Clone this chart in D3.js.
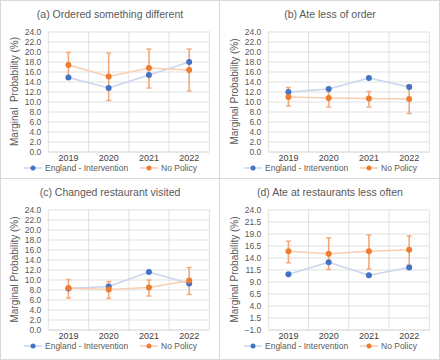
<!DOCTYPE html>
<html><head><meta charset="utf-8">
<script src="https://cdn.jsdelivr.net/npm/d3@7"></script>
<style>body{margin:0;background:#fff;} text{font-family:"Liberation Sans",Arial,sans-serif;}</style>
</head><body><svg id="c" width="440" height="360"></svg>
<script>
const years = ["2019","2020","2021","2022"];
const titles = ["(a) Ordered something different","(b) Ate less of order","(c) Changed restaurant visited","(d) Ate at restaurants less often"];
const yLabels = ["Marginal  Probability (%)","Marginal Probability (%)","Marginal Probability (%)","Marginal Probability (%)"];
const seriesNames = ["England - Intervention","No Policy"];

const englandA = [14.8,12.7,15.3,17.9];
const policyA  = [17.3,15.0,16.7,16.3];
const policyALow  = [14.8,10.2,12.7,12.1];
const policyAHigh = [19.8,19.7,20.5,20.5];

const englandB = [11.9,12.5,14.7,12.9];
const policyB  = [10.9,10.7,10.6,10.5];
const policyBLow  = [9.1,8.9,8.9,7.6];
const policyBHigh = [12.8,12.5,12.0,13.3];

const englandC = [8.2,8.6,11.5,9.2];
const policyC  = [8.3,8.0,8.4,9.8];
const policyCLow  = [6.3,6.2,6.7,7.0];
const policyCHigh = [10.0,9.6,9.9,12.4];

const englandD = [10.5,13.0,10.3,11.9];
const policyD  = [15.3,14.8,15.3,15.6];
const policyDLow  = [12.9,11.5,11.6,12.4];
const policyDHigh = [17.4,18.1,18.7,18.5];

const ticksStd = [0,2,4,6,8,10,12,14,16,18,20,22,24];
const ticksD = [-1,1.5,4,6.5,9,11.5,14,16.5,19,21.5,24];

const panels = [
  {eng:englandA, pol:policyA, lo:policyALow, hi:policyAHigh, ticks:ticksStd},
  {eng:englandB, pol:policyB, lo:policyBLow, hi:policyBHigh, ticks:ticksStd},
  {eng:englandC, pol:policyC, lo:policyCLow, hi:policyCHigh, ticks:ticksStd},
  {eng:englandD, pol:policyD, lo:policyDLow, hi:policyDHigh, ticks:ticksD}
];

const BLUE="#4472C4", ORANGE="#ED7D31", BLUE_L="#c9d6ee", ORANGE_L="#f8cdb0", ERR="#f2a878";
const TXT="#595959", GRID="#d9d9d9";
const svg = d3.select("#c");
svg.append("rect").attr("width",440).attr("height",360).attr("fill","#fff");

panels.forEach((p,i)=>{
  const ox = (i%2)*220, oy = Math.floor(i/2)*178;
  const g = svg.append("g").attr("transform",`translate(${ox},${oy})`);
  const L=48.3, R=209.3, T=31.5, B=151.5;
  const x = d3.scaleBand().domain(years).range([L,R]).padding(0);
  const y = d3.scaleLinear().domain([p.ticks[0], p.ticks[p.ticks.length-1]]).range([B,T]);

  const ya = g.append("g").attr("transform",`translate(${L},0)`)
    .call(d3.axisLeft(y).tickValues(p.ticks).tickSize(-(R-L)).tickPadding(7).tickFormat(d3.format(".1f")));
  ya.select(".domain").remove();
  ya.selectAll("line").attr("stroke",GRID).attr("stroke-width",0.8);
  ya.selectAll("text").attr("fill",TXT).attr("font-size","8.5px").attr("font-family","Liberation Sans, Arial, sans-serif");

  const bounds = years.map(d=>x(d)).concat([R]);
  g.selectAll(".vg").data(bounds).join("line")
    .attr("x1",d=>d).attr("x2",d=>d).attr("y1",T).attr("y2",B)
    .attr("stroke",GRID).attr("stroke-width",0.8);

  const xa = g.append("g").attr("transform",`translate(0,${B})`)
    .call(d3.axisBottom(x).tickSize(0).tickPadding(3));
  xa.select(".domain").attr("stroke",GRID).attr("stroke-width",0.8);
  xa.selectAll("text").attr("fill","#404040").attr("font-size","9px").attr("font-family","Liberation Sans, Arial, sans-serif");

  g.append("text").attr("x",110).attr("y",18).attr("text-anchor","middle")
    .attr("fill",TXT).attr("font-size","10.5px").text(titles[i]);
  g.append("text").attr("transform",`translate(18,${(T+B)/2}) rotate(-90)`)
    .attr("text-anchor","middle").attr("fill",TXT).attr("font-size","10px")
    .style("white-space","pre").text(yLabels[i]);

  const cx = d => x(d)+x.bandwidth()/2;
  const line = d3.line().x((d,j)=>cx(years[j])).y(d=>y(d));
  g.append("path").attr("d",line(p.eng)).attr("fill","none").attr("stroke",BLUE_L).attr("stroke-width",1.5);
  g.append("path").attr("d",line(p.pol)).attr("fill","none").attr("stroke",ORANGE_L).attr("stroke-width",1.5);

  years.forEach((yr,j)=>{
    const xx = cx(yr);
    g.append("line").attr("x1",xx).attr("x2",xx).attr("y1",y(p.lo[j])).attr("y2",y(p.hi[j]))
      .attr("stroke",ERR).attr("stroke-width",1.6);
    [p.lo[j],p.hi[j]].forEach(v=>{
      g.append("line").attr("x1",xx-2.5).attr("x2",xx+2.5).attr("y1",y(v)).attr("y2",y(v))
        .attr("stroke",ERR).attr("stroke-width",1.4);
    });
  });

  g.selectAll(".be").data(p.eng).join("circle")
    .attr("cx",(d,j)=>cx(years[j])).attr("cy",d=>y(d)).attr("r",3).attr("fill",BLUE);
  g.selectAll(".po").data(p.pol).join("circle")
    .attr("cx",(d,j)=>cx(years[j])).attr("cy",d=>y(d)).attr("r",3).attr("fill",ORANGE);

  const ly = 168;
  const leg = [{x:33, c:BLUE, lc:BLUE_L, t:seriesNames[0]},{x:149, c:ORANGE, lc:ORANGE_L, t:seriesNames[1]}];
  leg.forEach(l=>{
    g.append("line").attr("x1",l.x-9).attr("x2",l.x+9).attr("y1",ly).attr("y2",ly).attr("stroke",l.lc).attr("stroke-width",1.5);
    g.append("circle").attr("cx",l.x).attr("cy",ly).attr("r",2.5).attr("fill",l.c);
    g.append("text").attr("x",l.x+12).attr("y",ly+3).attr("fill",TXT).attr("font-size","8.5px").text(l.t);
  });
});

svg.append("line").attr("x1",219.5).attr("x2",219.5).attr("y1",0).attr("y2",360).attr("stroke",GRID).attr("stroke-width",1);
svg.append("line").attr("x1",0).attr("x2",440).attr("y1",178.5).attr("y2",178.5).attr("stroke",GRID).attr("stroke-width",1);
svg.append("rect").attr("x",0.5).attr("y",0.5).attr("width",439).attr("height",359).attr("fill","none").attr("stroke",GRID);
</script></body></html>
